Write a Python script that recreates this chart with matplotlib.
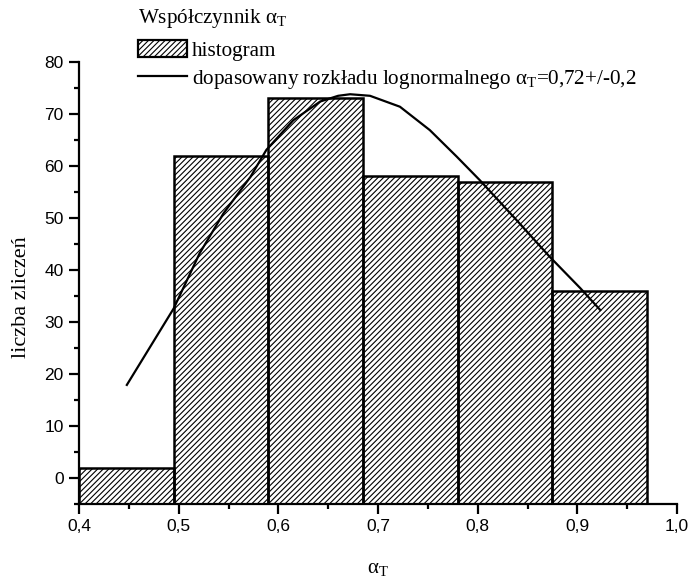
import numpy as np
import matplotlib
matplotlib.use('Agg')
import matplotlib.pyplot as plt
from matplotlib.ticker import MultipleLocator, FuncFormatter
from matplotlib.patches import Patch
from matplotlib.lines import Line2D

# histogram of alpha_T
krawedzie = [0.4, 0.495, 0.59, 0.685, 0.78, 0.875, 0.97]
zliczenia = [2, 62, 73, 58, 57, 36]

fit_x = [0.448, 0.495, 0.521, 0.545, 0.572, 0.588, 0.615, 0.642, 0.660, 0.672,
         0.692, 0.722, 0.752, 0.779, 0.802, 0.839, 0.872, 0.903, 0.923]
fit_y = [17.9, 32.6, 43.2, 50.9, 57.9, 63.1, 68.8, 72.4, 73.5, 73.8,
         73.5, 71.4, 66.9, 61.8, 57.3, 49.6, 42.6, 36.5, 32.3]

serif = 'Liberation Serif'
sans = 'Liberation Sans'
plt.rcParams['hatch.linewidth'] = 0.8
plt.rcParams['mathtext.fontset'] = 'custom'
plt.rcParams['mathtext.rm'] = serif
plt.rcParams['mathtext.it'] = serif + ':italic'

fig = plt.figure(figsize=(6.93, 5.8), dpi=100)
ax = fig.add_axes([79/693, 76/580, 598/693, 442/580])

# bars start at axis bottom (-5) and reach count value
dol = -5
szer = np.diff(krawedzie)
ax.bar(krawedzie[:-1], np.array(zliczenia) - dol, width=szer, align='edge', bottom=dol,
       fill=False, hatch='//////', edgecolor='black', linewidth=1.8)
ax.plot(fit_x, fit_y, color='black', lw=1.6)

ax.set_xlim(0.4, 1.0)
ax.set_ylim(dol, 80)
for s in ['top', 'right']:
    ax.spines[s].set_visible(False)
for s in ['left', 'bottom']:
    ax.spines[s].set_linewidth(1.6)

ax.xaxis.set_major_locator(MultipleLocator(0.1))
ax.xaxis.set_minor_locator(MultipleLocator(0.05))
ax.yaxis.set_major_locator(MultipleLocator(10))
ax.yaxis.set_minor_locator(MultipleLocator(5))
ax.xaxis.set_major_formatter(FuncFormatter(lambda v, p: f'{v:.1f}'.replace('.', ',')))
ax.yaxis.set_major_formatter(FuncFormatter(lambda v, p: f'{v:.0f}'))
ax.tick_params(which='major', direction='out', length=7, width=1.6, labelsize=12.5, pad=4)
ax.tick_params(which='minor', direction='out', length=3.5, width=1.6)
for t in ax.get_xticklabels() + ax.get_yticklabels():
    t.set_fontfamily(sans)

ax.set_xlabel(r'α$_{\mathrm{T}}$', fontsize=15, fontfamily=serif, labelpad=18)
ax.set_ylabel('liczba zliczeń', fontsize=16, fontfamily=serif)
ax.yaxis.set_label_coords(-0.080, 0.468)

uchwyty = [Patch(fill=False, hatch='//////', edgecolor='black', linewidth=1.6),
           Line2D([], [], color='black', lw=1.6)]
etykiety = ['histogram',
            r'dopasowany rozkładu lognormalnego α$_{\mathrm{T}}$=0,72+/-0,2']
leg = ax.legend(uchwyty, etykiety, loc='upper left', bbox_to_anchor=(138/693, 1 - 7/580),
                bbox_transform=fig.transFigure, frameon=False,
                title=r'Współczynnik α$_{\mathrm{T}}$', alignment='left',
                prop={'family': serif, 'size': 15.2}, title_fontproperties={'family': serif, 'size': 15.2},
                handlelength=2.3, handleheight=0.9, handletextpad=0.25,
                labelspacing=0.36, borderpad=0, borderaxespad=0)
leg._legend_box.sep = 7

fig.savefig('out.png', dpi=100)
